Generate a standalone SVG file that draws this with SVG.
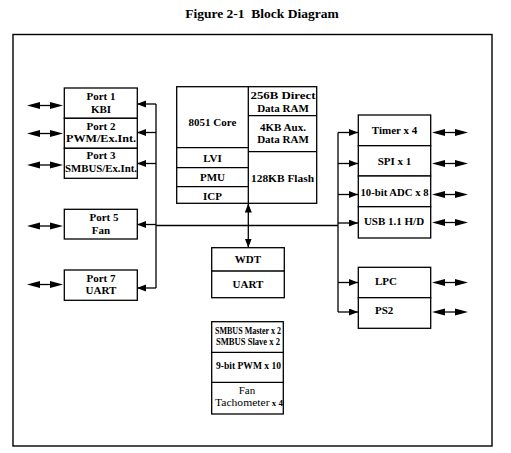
<svg xmlns="http://www.w3.org/2000/svg" width="511" height="453" viewBox="0 0 511 453">
<style>
.box{fill:#fff;stroke:#000;stroke-width:1.3}
.ln{fill:none;stroke:#000;stroke-width:1.3}
.t{font-family:"Liberation Serif","Times New Roman",serif;font-weight:bold;font-size:11px;fill:#000;text-anchor:middle}
.r{font-weight:normal}
.title{font-family:"Liberation Serif","Times New Roman",serif;font-weight:bold;font-size:13.5px;fill:#000;text-anchor:middle}
</style>
<defs>
<marker id="ah" markerUnits="userSpaceOnUse" markerWidth="10" markerHeight="8" refX="9" refY="3.5" orient="auto-start-reverse" viewBox="0 0 10 8">
<path d="M0,0 L9,3.5 L0,7 Z" fill="#000"/>
</marker>
<g id="dbl">
<path d="M-18,0 L-5,-3.5 L-5,3.5 Z M18,0 L5,-3.5 L5,3.5 Z" fill="#000"/>
<path d="M-5,0 H5" stroke="#000" stroke-width="1.3"/>
</g>
</defs>
<rect width="511" height="453" fill="#fff"/>
<text class="title" x="262" y="18">Figure 2-1&#160; Block Diagram</text>
<rect x="13" y="34.5" width="479" height="411.5" fill="none" stroke="#000" stroke-width="1.4"/>

<g id="connectors">
<path class="ln" d="M156,104 V288"/>
<path class="ln" d="M156,104 H137" marker-end="url(#ah)"/>
<path class="ln" d="M156,132.5 H137" marker-end="url(#ah)"/>
<path class="ln" d="M156,163.5 H137" marker-end="url(#ah)"/>
<path class="ln" d="M156,224.5 H137" marker-end="url(#ah)"/>
<path class="ln" d="M156,288 H137" marker-end="url(#ah)"/>
<path class="ln" d="M156,225.5 H338"/>
<path class="ln" d="M338,132.5 V312"/>
<path class="ln" d="M338,132.5 H358" marker-end="url(#ah)"/>
<path class="ln" d="M338,163.5 H358" marker-end="url(#ah)"/>
<path class="ln" d="M338,194.5 H358" marker-end="url(#ah)"/>
<path class="ln" d="M338,223 H358" marker-end="url(#ah)"/>
<path class="ln" d="M338,282.5 H358" marker-end="url(#ah)"/>
<path class="ln" d="M338,312 H358" marker-end="url(#ah)"/>
<path class="ln" d="M248.3,203.5 V247.5" marker-start="url(#ah)" marker-end="url(#ah)"/>
<use href="#dbl" x="45" y="105.5"/>
<use href="#dbl" x="45" y="133.5"/>
<use href="#dbl" x="45" y="165"/>
<use href="#dbl" x="45" y="226"/>
<use href="#dbl" x="45" y="284.5"/>
<use href="#dbl" x="450" y="132.5"/>
<use href="#dbl" x="450" y="163.5"/>
<use href="#dbl" x="450" y="194.5"/>
<use href="#dbl" x="450" y="222.5"/>
<use href="#dbl" x="450" y="282.5"/>
<use href="#dbl" x="450" y="312"/>
</g>

<g id="port1">
<rect class="box" x="64.3" y="88" width="73" height="30.3"/>
<text class="t" x="101" y="100">Port 1</text>
<text class="t" x="101" y="113">KBI</text>
</g>
<g id="port2">
<rect class="box" x="64.3" y="118.3" width="73" height="30"/>
<text class="t" x="101" y="129.5">Port 2</text>
<text class="t" x="101" y="142" textLength="70" lengthAdjust="spacingAndGlyphs">PWM/Ex.Int.</text>
</g>
<g id="port3">
<rect class="box" x="64.3" y="148.3" width="73" height="30"/>
<text class="t" x="101" y="159">Port 3</text>
<text class="t" x="101" y="171.7" font-size="10.5" textLength="72" lengthAdjust="spacingAndGlyphs">SMBUS/Ex.Int.</text>
</g>
<g id="port5">
<rect class="box" x="64.3" y="209.3" width="73" height="29.7"/>
<text class="t" x="104" y="221">Port 5</text>
<text class="t" x="101" y="233.8">Fan</text>
</g>
<g id="port7">
<rect class="box" x="64.3" y="270" width="73" height="30.3"/>
<text class="t" x="101" y="281.5">Port 7</text>
<text class="t" x="101" y="294.3">UART</text>
</g>

<g id="core">
<rect class="box" x="176.7" y="86.7" width="140" height="116.6"/>
<path class="ln" d="M248.3,86.7 V203.3 M248.3,115.7 H316.7 M248.3,151.7 H316.7 M176.7,147.7 H248.3 M176.7,167.7 H248.3 M176.7,186.7 H248.3"/>
<text class="t" x="212.5" y="125.7" font-size="12">8051 Core</text>
<text class="t" x="212.5" y="161.7" font-size="12">LVI</text>
<text class="t" x="212.5" y="180.7" font-size="12">PMU</text>
<text class="t" x="212.5" y="200" font-size="12">ICP</text>
<text class="t" x="283" y="99" textLength="65" lengthAdjust="spacingAndGlyphs">256B Direct</text>
<text class="t" x="283" y="111.7">Data RAM</text>
<text class="t" x="283" y="130.5">4KB Aux.</text>
<text class="t" x="283" y="143.3">Data RAM</text>
<text class="t" x="282.5" y="181.7" font-size="12" textLength="63" lengthAdjust="spacingAndGlyphs">128KB Flash</text>
</g>

<g id="wdt">
<rect class="box" x="211.7" y="247.7" width="72.6" height="50"/>
<path class="ln" d="M211.7,271 H284.3"/>
<text class="t" x="248" y="263.3" font-size="11.5">WDT</text>
<text class="t" x="248" y="288.3" font-size="11.5">UART</text>
</g>

<g id="peripherals">
<rect class="box" x="211.7" y="321.7" width="71.6" height="92.3"/>
<path class="ln" d="M211.7,352.3 H283.3 M211.7,382.3 H283.3"/>
<text class="t" x="248" y="333.5" font-size="10" textLength="66" lengthAdjust="spacingAndGlyphs">SMBUS Master x 2</text>
<text class="t" x="248" y="345" font-size="10" textLength="64" lengthAdjust="spacingAndGlyphs">SMBUS Slave x 2</text>
<text class="t" x="248.5" y="369" font-size="11.5" textLength="65" lengthAdjust="spacingAndGlyphs">9-bit PWM x 10</text>
<text class="t r" x="247" y="394" font-size="11.5">Fan</text>
<text class="t r" x="249" y="406" font-size="11.5" textLength="68" lengthAdjust="spacingAndGlyphs">Tachometer<tspan font-weight="bold" font-size="8.5"> x 4</tspan></text>
</g>

<g id="timer">
<rect class="box" x="358.3" y="115" width="72.4" height="30.7"/>
<text class="t" x="394.5" y="134" font-size="11.5">Timer x 4</text>
</g>
<g id="spi">
<rect class="box" x="358.3" y="145.7" width="72.4" height="30.3"/>
<text class="t" x="394.5" y="165" font-size="11.5">SPI x 1</text>
</g>
<g id="adc">
<rect class="box" x="358.3" y="176" width="72.4" height="30.7"/>
<text class="t" x="394.5" y="195.7" textLength="68" lengthAdjust="spacingAndGlyphs">10-bit ADC x 8</text>
</g>
<g id="usb">
<rect class="box" x="358.3" y="206.7" width="72.4" height="31.3"/>
<text class="t" x="394" y="225" font-size="10.5">USB 1.1 H/D</text>
</g>
<g id="lpc">
<rect class="box" x="358.3" y="267.3" width="72.4" height="30.4"/>
<text class="t" x="375" y="285" style="text-anchor:start">LPC</text>
</g>
<g id="ps2">
<rect class="box" x="358.3" y="297.7" width="72.4" height="30.6"/>
<text class="t" x="375" y="314" style="text-anchor:start">PS2</text>
</g>
</svg>
